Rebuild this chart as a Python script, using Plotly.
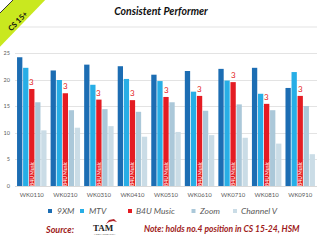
import plotly.graph_objects as go

weeks = ["WK0110", "WK0210", "WK0310", "WK0410", "WK0510", "WK0610", "WK0710", "WK0810", "WK0910"]
series_names = ["9XM", "MTV", "B4U Music", "Zoom", "Channel V"]
v_9xm = [24.3, 21.8, 22.9, 22.6, 21.0, 21.7, 22.1, 22.3, 18.5]
v_mtv = [22.3, 20.0, 19.1, 20.2, 19.8, 17.8, 19.9, 17.4, 21.5]
v_b4u = [18.3, 17.5, 16.3, 16.2, 16.8, 17.0, 19.6, 15.5, 17.0]
v_zoom = [15.8, 14.3, 14.5, 14.0, 15.8, 14.2, 15.4, 14.3, 15.1]
v_chv = [10.5, 11.0, 11.3, 9.3, 10.2, 9.6, 9.1, 8.0, 6.0]
b4u_rank = ["3", "3", "3", "3", "3", "3", "3", "3", "3"]
y_ticks = [0, 5, 10, 15, 20, 25]

colors = ["#1c6db3", "#27aee6", "#e41c23", "#abc8d9", "#cadce6"]
values = [v_9xm, v_mtv, v_b4u, v_zoom, v_chv]

W, H = 320, 240
ML, MR, MT, MB = 15, 3, 27, 54
PW, PH = W - ML - MR, H - MT - MB


def fx(px):
    return (px - ML) / PW


def fy(py):
    return (H - MB - py) / PH


def ppath(points, close=True):
    s = "M " + " L ".join("%.5f,%.5f" % (fx(a), fy(b)) for a, b in points)
    return s + (" Z" if close else "")


fig = go.Figure()
for name, vals, col in zip(series_names, values, colors):
    kw = {}
    if name == "B4U Music":
        kw = dict(text=["B4U Music"] * len(weeks), textposition="inside",
                  insidetextanchor="start", textangle=-90, constraintext="none",
                  insidetextfont=dict(size=5, color="white", family="Lato"))
    fig.add_trace(go.Bar(x=weeks, y=vals, name=name, marker=dict(color=col, line=dict(width=0)),
                         showlegend=False, **kw))

annotations = []
for wk, val, r in zip(weeks, v_b4u, b4u_rank):
    annotations.append(dict(x=wk, y=val, xref="x", yref="y", text=r, showarrow=False,
                            yanchor="bottom", yshift=0,
                            font=dict(size=8, color="#e41c23", family="Lato")))

# legend (custom)
shapes = []
leg_sq = [48, 80, 128, 191.5, 233]
leg_tx = [55, 87, 134, 197, 239]
ly = 211
for name, col, sx, tx in zip(series_names, colors, leg_sq, leg_tx):
    shapes.append(dict(type="rect", xref="paper", yref="paper", x0=fx(sx), x1=fx(sx + 4),
                       y0=fy(ly + 2), y1=fy(ly - 2), fillcolor=col, line=dict(width=0)))
    annotations.append(dict(x=fx(tx), y=fy(ly), xref="paper", yref="paper", text="<i>%s</i>" % name,
                            showarrow=False, xanchor="left", yanchor="middle",
                            font=dict(size=8.5, color="#595959", family="Lato")))

# top line (30 grid)
shapes.append(dict(type="line", xref="paper", yref="paper", x0=0, x1=1, y0=1, y1=1,
                   line=dict(color="#e3e3e3", width=1)))

# corner banner
shapes.append(dict(type="path", xref="paper", yref="paper",
                   path=ppath([(-5, 18), (18, -5), (50, -5), (-5, 52)]),
                   fillcolor="#c9e81f", line=dict(width=0)))
shapes.append(dict(type="path", xref="paper", yref="paper",
                   path=ppath([(-5, 18), (18, -5)], close=False),
                   line=dict(color="#333333", width=1)))
annotations.append(dict(x=fx(17.5), y=fy(21.5), xref="paper", yref="paper", text="<b>CS 15+</b>",
                        showarrow=False, textangle=-45, xanchor="center", yanchor="middle",
                        font=dict(size=7.5, color="#111111", family="Lato")))

# footer
annotations.append(dict(x=fx(43), y=fy(229), xref="paper", yref="paper", text="<b><i>Source:</i></b>",
                        showarrow=False, xanchor="left", yanchor="middle",
                        font=dict(size=9, color="#9e1b20", family="Lato")))
annotations.append(dict(x=fx(142), y=fy(229), xref="paper", yref="paper",
                        text="<b><i>Note: holds no.4 position in CS 15-24, HSM</i></b>",
                        showarrow=False, xanchor="left", yanchor="middle",
                        font=dict(size=8.5, color="#9e1b20", family="Lato")))
shapes.append(dict(type="path", xref="paper", yref="paper",
                   path=ppath([(106, 224), (109, 220), (114, 219), (117, 222), (113, 221), (109, 222)]),
                   fillcolor="#b5262c", line=dict(width=0)))
annotations.append(dict(x=fx(103), y=fy(228), xref="paper", yref="paper", text="<b>TAM</b>",
                        showarrow=False, xanchor="center", yanchor="middle",
                        font=dict(size=9, color="#222222", family="Liberation Serif")))
annotations.append(dict(x=fx(104), y=fy(234), xref="paper", yref="paper", text="MEDIA RESEARCH",
                        showarrow=False, xanchor="center", yanchor="middle",
                        font=dict(size=2.5, color="#666666", family="Lato")))

fig.update_layout(
    width=W, height=H, margin=dict(l=ML, r=MR, t=MT, b=MB),
    paper_bgcolor="white", plot_bgcolor="white",
    barmode="group", bargap=0.1, bargroupgap=0.12,
    title=dict(text="<b><i>Consistent Performer</i></b>", x=161 / W, xanchor="center",
               y=1 - 11 / H, yanchor="middle", font=dict(size=10.5, color="#111111", family="Lato")),
    xaxis=dict(showgrid=False, showline=True, linecolor="#d9d9d9", linewidth=1,
               tickfont=dict(size=6, color="#595959", family="Lato"), ticks="", ticklabelstandoff=3),
    yaxis=dict(range=[0, 30], tickvals=y_ticks, showgrid=True, gridcolor="#e3e3e3", gridwidth=1,
               zeroline=False, showline=False, ticks="",
               tickfont=dict(size=5.5, color="#595959", family="Lato"), ticklabelstandoff=4),
    shapes=shapes, annotations=annotations,
)

fig.write_html("out.html")
